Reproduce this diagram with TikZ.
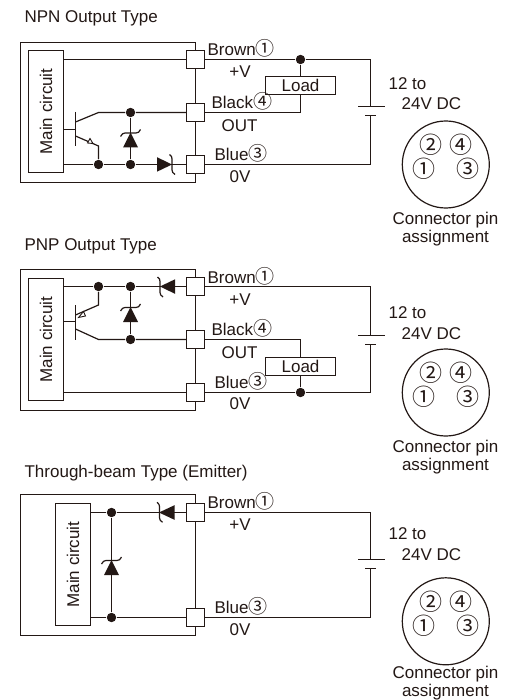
\documentclass[tikz,border=0pt]{standalone}
\usepackage{fontspec}
\setmainfont{Liberation Sans}
\newfontfamily\circfont{Noto Sans CJK JP}
\definecolor{inkc}{HTML}{231815}
\newcommand{\labc}[1]{{\circfont\fontsize{19}{19}\selectfont #1}}
\begin{document}
\begin{tikzpicture}[x=1pt,y=1pt,color=inkc,line width=1.2pt]
\tikzstyle{every node}+=[inner sep=0pt,font=\fontsize{17}{17.6}\selectfont,text=inkc]
\tikzstyle{term}=[draw,fill=white,minimum size=18pt]
\tikzstyle{joint}=[circle,fill=inkc,minimum size=9.4pt]
\tikzstyle{maincirc}=[draw,fill=white,minimum width=35pt,minimum height=122pt]
\tikzstyle{loadbox}=[draw,fill=white,minimum width=70pt,minimum height=18pt]
\tikzstyle{conn}=[draw,circle,minimum size=87pt]
\tikzstyle{pin}=[font=\circfont\fontsize{23}{23}\selectfont]
\tikzstyle{txt}=[anchor=base west]
\tikzstyle{mid}=[anchor=base]
\useasboundingbox (0,0) rectangle (508,-700);
\fill [white] (0,0) rectangle (508,-700);
\draw (24,-22.5) node [txt] (title1) {NPN Output Type};
\draw (20.5,-42.5) rectangle (195.5,-182.5);
\node [maincirc] (main1) at (46,-111.5) {\rotatebox{90}{Main circuit}};
\node [term] (t1a) at (195.5,-59.5) {};
\node [term] (t1b) at (195.5,-112.5) {};
\node [term] (t1c) at (195.5,-164.5) {};
\node [joint] (d1a) at (98.5,-164.5) {};
\node [joint] (d1b) at (130.5,-112.5) {};
\node [joint] (d1c) at (130.5,-164.5) {};
\node [joint] (d1d) at (300.5,-59.5) {};
\node [loadbox] (load1) at (300.5,-85.5) {Load};
\coordinate (q1b) at (75.5,-129.5);
\coordinate (q1c) at (98.5,-112.5);
\coordinate (q1e) at (98.5,-146);
\coordinate (bat1p) at (370.5,-106.5);
\coordinate (bat1n) at (370.5,-115.5);
\draw (main1.east |- t1a) -- (t1a);
\draw (main1.east |- q1b) -- (q1b);
\draw (75.5,-112) -- (75.5,-146.5);
\draw (75.5,-122) -- (q1c) -- (d1b) -- (t1b);
\draw (75.5,-136) -- (q1e) -- (d1a);
\draw [fill=white,line width=0.9pt] (93,-143.5) -- (87.5,-143) -- (90,-138.5) -- cycle;
\draw (main1.east |- t1c) -- (d1a) -- (d1c) -- (t1c);
\draw (d1b) -- (d1c);
\fill (130.5,-132.5) -- (138,-147.5) -- (123,-147.5) -- cycle;
\draw (120.5,-136.5) .. controls (122,-134) and (123,-133) .. (125,-133) -- (136,-133) .. controls (138,-133) and (139.5,-132) .. (140.5,-129.5);
\fill (172,-164.5) -- (157,-157.2) -- (157,-171.7) -- cycle;
\draw (169.5,-154.5) .. controls (171.5,-156) and (172,-157) .. (172,-159) -- (172,-170) .. controls (172,-172) and (173,-173) .. (175,-174.5);
\draw (t1a) -- (d1d) -| (bat1p);
\draw (d1d) -- (load1);
\draw (load1) |- (t1b);
\draw (t1c) -| (bat1n);
\draw (358,-106.5) -- (385,-106.5);
\draw (365,-115.5) -- (375.5,-115.5);
\draw (207,-56) node [txt] {Brown\labc{①}};
\draw (240,-78) node [mid] {+V};
\draw (211,-108.3) node [txt] {Black\labc{④}};
\draw (239.5,-131.5) node [mid] {OUT};
\draw (214,-160.7) node [txt] {Blue\labc{③}};
\draw (240,-182.3) node [mid] {0V};
\draw (388,-89.3) node [txt] {12 to};
\draw (401,-110) node [txt] {24V DC};
\node [conn] (conn1) at (445.8,-164.5) {};
\node [pin] (p1b) at (431,-145) {②};
\node [pin] (p1d) at (461,-145) {④};
\node [pin] (p1a) at (424,-169) {①};
\node [pin] (p1c) at (468,-169) {③};
\draw (445.5,-242.5) node [mid,align=center] {Connector pin\\assignment};
\draw (24,-250.5) node [txt] (title2) {PNP Output Type};
\draw (20.5,-269.5) rectangle (195.5,-410.5);
\node [maincirc] (main2) at (46,-339.5) {\rotatebox{90}{Main circuit}};
\node [term] (t2a) at (195.5,-286.5) {};
\node [term] (t2b) at (195.5,-339.5) {};
\node [term] (t2c) at (195.5,-392.5) {};
\node [joint] (d2a) at (98.5,-286.5) {};
\node [joint] (d2b) at (130.5,-286.5) {};
\node [joint] (d2c) at (130.5,-339.5) {};
\node [joint] (d2d) at (300.5,-392.5) {};
\node [loadbox] (load2) at (300.5,-366.5) {Load};
\coordinate (q2b) at (75.5,-321.5);
\coordinate (q2c) at (98.5,-339.5);
\coordinate (q2e) at (98.5,-305);
\coordinate (bat2p) at (370.5,-335.5);
\coordinate (bat2n) at (370.5,-344.5);
\draw (main2.east |- t2c) -- (t2c);
\draw (main2.east |- q2b) -- (q2b);
\draw (75.5,-305) -- (75.5,-339.5);
\draw (75.5,-329) -- (q2c) -- (d2c) -- (t2b);
\draw (75.5,-315) -- (q2e) -- (d2a);
\draw [fill=white,line width=0.9pt] (78.5,-317.5) -- (83.5,-311.5) -- (85.5,-316) -- cycle;
\draw (main2.east |- t2a) -- (d2a) -- (d2b) -- (t2a);
\draw (d2b) -- (d2c);
\fill (130.5,-307) -- (138,-322) -- (123,-322) -- cycle;
\draw (120.5,-311) .. controls (122,-308.5) and (123,-307.5) .. (125,-307.5) -- (136,-307.5) .. controls (138,-307.5) and (139.5,-306.5) .. (140.5,-304);
\fill (160,-286.5) -- (175,-279.3) -- (175,-293.8) -- cycle;
\draw (157.5,-277) .. controls (159.5,-278.5) and (160,-279.5) .. (160,-281.5) -- (160,-292.5) .. controls (160,-294.5) and (161,-295.5) .. (163,-297);
\draw (t2a) -| (bat2p);
\draw (t2b) -| (load2);
\draw (d2d) -- (load2);
\draw (t2c) -- (d2d) -| (bat2n);
\draw (358,-335.5) -- (384.5,-335.5);
\draw (365,-344.5) -- (375.5,-344.5);
\draw (207,-283) node [txt] {Brown\labc{①}};
\draw (240,-305) node [mid] {+V};
\draw (211,-335.3) node [txt] {Black\labc{④}};
\draw (239.5,-358.5) node [mid] {OUT};
\draw (214,-388) node [txt] {Blue\labc{③}};
\draw (240,-409.5) node [mid] {0V};
\draw (388,-318) node [txt] {12 to};
\draw (401,-339) node [txt] {24V DC};
\node [conn] (conn2) at (445.8,-392.5) {};
\node [pin] (p2b) at (431,-373) {②};
\node [pin] (p2d) at (461,-373) {④};
\node [pin] (p2a) at (424,-396.7) {①};
\node [pin] (p2c) at (468,-396.7) {③};
\draw (445.5,-470.5) node [mid,align=center] {Connector pin\\assignment};
\draw (24,-477) node [txt] (title3) {Through-beam Type (Emitter)};
\draw (20.5,-494.5) rectangle (195.5,-635.5);
\node [maincirc] (main3) at (73,-564.5) {\rotatebox{90}{Main circuit}};
\node [term] (t3a) at (195.5,-512.5) {};
\node [term] (t3c) at (195.5,-617.5) {};
\node [joint] (d3a) at (111.5,-512.5) {};
\node [joint] (d3c) at (111.5,-617.5) {};
\coordinate (bat3p) at (370.5,-559.5);
\coordinate (bat3n) at (370.5,-568.5);
\draw (main3.east |- t3a) -- (d3a) -- (t3a);
\draw (main3.east |- t3c) -- (d3c) -- (t3c);
\draw (d3a) -- (d3c);
\fill (111.5,-560) -- (119,-575) -- (104,-575) -- cycle;
\draw (101.5,-564) .. controls (103,-561.5) and (104,-560.5) .. (106,-560.5) -- (117,-560.5) .. controls (119,-560.5) and (120.5,-559.5) .. (121.5,-557);
\fill (159,-512.5) -- (174.5,-505.2) -- (174.5,-519.8) -- cycle;
\draw (157,-502.3) .. controls (159,-503.8) and (159.5,-504.8) .. (159.5,-506.8) -- (159.5,-517.8) .. controls (159.5,-519.8) and (160.5,-520.8) .. (162.5,-522.3);
\draw (t3a) -| (bat3p);
\draw (t3c) -| (bat3n);
\draw (358,-559.5) -- (385,-559.5);
\draw (365,-568.5) -- (375.5,-568.5);
\draw (207,-508.5) node [txt] {Brown\labc{①}};
\draw (240,-530.5) node [mid] {+V};
\draw (214,-613) node [txt] {Blue\labc{③}};
\draw (240,-635) node [mid] {0V};
\draw (388,-539.3) node [txt] {12 to};
\draw (401,-560) node [txt] {24V DC};
\node [conn] (conn3) at (445.8,-621.3) {};
\node [pin] (p3b) at (431,-602) {②};
\node [pin] (p3d) at (461,-602) {④};
\node [pin] (p3a) at (424,-625.7) {①};
\node [pin] (p3c) at (468,-625.7) {③};
\draw (445.5,-696) node [mid,align=center] {Connector pin\\assignment};
\end{tikzpicture}
\end{document}
